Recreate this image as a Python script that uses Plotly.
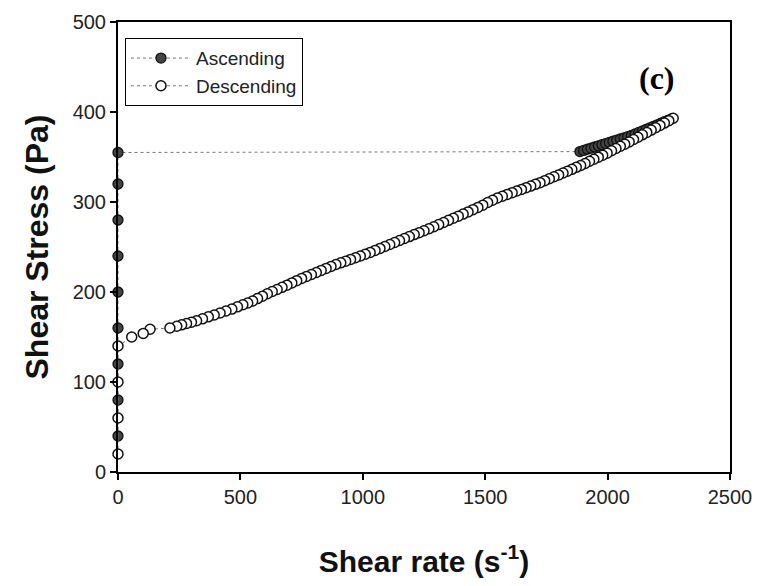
import plotly.graph_objects as go

# Ascending ramp: stress at zero shear rate, then flow branch
asc_x = [0, 0, 0, 0, 0, 0, 0, 0, 0,
         1887, 1902, 1917, 1932, 1947, 1962, 1977, 1992, 2007, 2022, 2037, 2052, 2067,
         2082, 2097, 2112, 2127, 2142, 2157, 2172, 2187, 2202, 2217, 2232, 2247, 2262]
asc_y = [40, 80, 120, 160, 200, 240, 280, 320, 355,
         356.0, 357.3, 358.6, 359.8, 361.1, 362.4, 363.7, 364.9, 366.2, 367.5, 368.8, 370.0, 371.3,
         372.6, 373.9, 375.6, 377.3, 379.0, 380.7, 382.4, 384.1, 385.8, 387.5, 389.2, 390.9, 392.6]

# Descending ramp
desc_x = [2268, 2250, 2232, 2214, 2196, 2178, 2160, 2142, 2124, 2106, 2088, 2070, 2052, 2034,
          2016, 1998, 1980, 1962, 1944, 1926, 1908, 1890, 1872, 1854, 1836, 1818, 1800, 1781,
          1762, 1743, 1724, 1705, 1686, 1667, 1648, 1629, 1610, 1590, 1570, 1550, 1530, 1510,
          1490, 1470, 1450, 1430, 1410, 1390, 1370, 1350, 1330, 1310, 1290, 1270, 1250, 1230,
          1210, 1190, 1170, 1150, 1130, 1110, 1090, 1070, 1050, 1030, 1010, 990, 970, 950,
          930, 910, 890, 870, 850, 830, 810, 790, 770, 750, 730, 710, 690, 670, 650, 630,
          610, 590, 570, 550, 530, 510, 488, 465, 441, 417, 393, 369, 345, 321, 300, 280,
          260, 240, 212, 131, 103, 56, 0, 0, 0, 0]
desc_y = [393, 390.4, 387.7, 385.1, 382.5, 379.9, 377.3, 374.6, 371.9, 369.4, 366.8, 364.3, 362, 359.5,
          357, 354.3, 352, 349.8, 347.5, 345.3, 342.8, 340.5, 338.5, 336.3, 334.3, 332.2, 330.1, 328,
          325.9, 323.7, 321.5, 319.6, 317.7, 315.9, 314, 312.2, 310.4, 308.4, 306.4, 304.4, 301.9, 299.4,
          296.5, 294, 291.5, 289, 286.6, 284.3, 281.9, 279.6, 277.2, 274.9, 272.5, 270.3, 268.1, 265.9,
          263.8, 261.6, 259.4, 257.2, 255, 252.8, 250.6, 248.4, 246.2, 244, 241.9, 240, 238.1, 236.2,
          234.3, 232.4, 230.5, 228.4, 226.2, 224, 221.7, 219.5, 217.3, 215.1, 212.6, 210.1, 207.6, 205.2, 202.8, 200.5,
          198.1, 195.4, 192.7, 190, 187.8, 185.8, 183.5, 181, 178.9, 176.7, 174.5, 172.4, 170.2, 168, 166.5, 165,
          163.5, 162, 160, 158.6, 154, 150, 140, 100, 60, 20]

x_ticks = [0, 500, 1000, 1500, 2000, 2500]
y_ticks = [0, 100, 200, 300, 400, 500]

SANS = "Liberation Sans, Arial, sans-serif"

fig = go.Figure()
fig.add_trace(go.Scatter(
    x=asc_x, y=asc_y, mode="lines+markers", name="Ascending",
    line=dict(color="#777777", width=1, dash="dot"),
    marker=dict(size=10, color="#444444", line=dict(color="#111111", width=1.3)),
    cliponaxis=False))
fig.add_trace(go.Scatter(
    x=desc_x, y=desc_y, mode="lines+markers", name="Descending",
    line=dict(color="#777777", width=1, dash="dot"),
    marker=dict(size=10, color="white", line=dict(color="#111111", width=1.5)),
    cliponaxis=False))

fig.add_annotation(x=2200, y=438, text="<b>(c)</b>", showarrow=False,
                   font=dict(family="Liberation Serif, Times New Roman, serif", size=32, color="black"))

axis_common = dict(showline=True, linecolor="black", linewidth=2, mirror=True,
                   ticks="outside", ticklen=6, tickwidth=1.5, tickcolor="black",
                   showgrid=False, zeroline=False,
                   tickfont=dict(family=SANS, size=20, color="#222222"))

fig.update_layout(
    width=763, height=586,
    margin=dict(l=118, r=33, t=22, b=114),
    paper_bgcolor="white", plot_bgcolor="white",
    showlegend=True,
    legend=dict(x=0.0114, y=0.964, xanchor="left", yanchor="top",
                bordercolor="black", borderwidth=1, bgcolor="white",
                itemwidth=60,
                font=dict(family=SANS, size=19, color="#222222")),
    xaxis=dict(range=[0, 2500], tickvals=x_ticks, **axis_common,
               title=dict(text="<b>Shear rate (s<sup>-1</sup>)</b>", standoff=44,
                          font=dict(family=SANS, size=30, color="#111111"))),
    yaxis=dict(range=[0, 500], tickvals=y_ticks, **axis_common,
               title=dict(text="<b>Shear Stress (Pa)</b>", standoff=14,
                          font=dict(family=SANS, size=32, color="#111111"))),
)

fig.write_html("out.html")
